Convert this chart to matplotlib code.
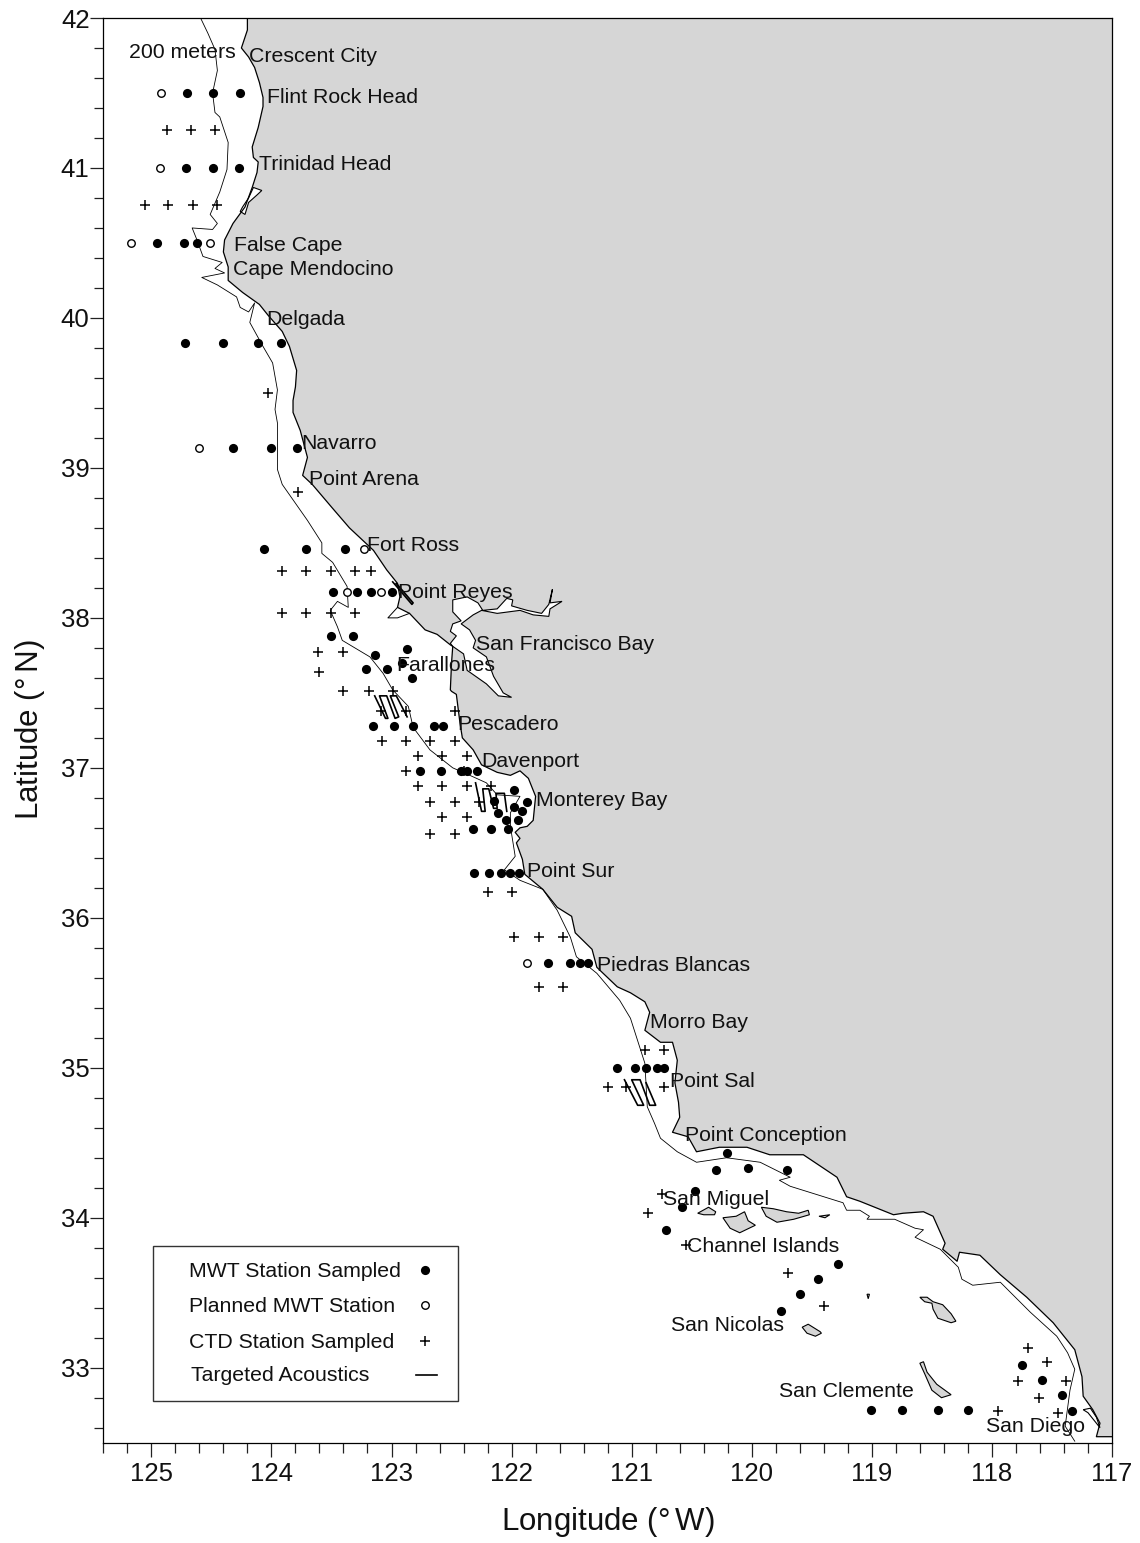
import matplotlib
matplotlib.use('Agg')
import matplotlib.pyplot as plt
from matplotlib.patches import Rectangle
from matplotlib.ticker import MultipleLocator, FormatStrFormatter

plt.rcParams['font.family'] = ['Liberation Sans', 'DejaVu Sans']
plt.rcParams['mathtext.default'] = 'regular'

# --- station data ---
mwt_lon = [124.70, 124.49, 124.26, 124.71, 124.49, 124.27, 124.95, 124.73, 124.62,
           124.72, 124.40, 124.11, 123.92, 124.32, 124.00, 123.79, 124.06, 123.71, 123.39,
           123.49, 123.29, 123.17, 123.00, 123.50, 123.32, 122.87, 123.14, 122.91, 123.21,
           123.04, 122.83, 123.15, 122.98, 122.82, 122.65, 122.57, 122.76, 122.59, 122.42,
           122.37, 122.29, 121.98, 121.87, 122.15, 121.98, 121.91, 122.11, 122.05, 121.95,
           122.32, 122.17, 122.03, 122.31, 122.19, 122.09, 122.01, 121.94, 121.70, 121.51,
           121.43, 121.36, 121.12, 120.97, 120.88, 120.79, 120.73, 120.21, 120.30, 120.03,
           119.71, 120.47, 120.58, 120.71, 119.28, 119.45, 119.60, 119.76, 117.75, 117.58,
           117.42, 117.33, 119.01, 118.75, 118.45, 118.20]
mwt_lat = [41.50, 41.50, 41.50, 41.00, 41.00, 41.00, 40.50, 40.50, 40.50,
           39.83, 39.83, 39.83, 39.83, 39.13, 39.13, 39.13, 38.46, 38.46, 38.46,
           38.17, 38.17, 38.17, 38.17, 37.88, 37.88, 37.79, 37.75, 37.70, 37.66,
           37.66, 37.60, 37.28, 37.28, 37.28, 37.28, 37.28, 36.98, 36.98, 36.98,
           36.98, 36.98, 36.85, 36.77, 36.78, 36.74, 36.71, 36.70, 36.65, 36.65,
           36.59, 36.59, 36.59, 36.30, 36.30, 36.30, 36.30, 36.30, 35.70, 35.70,
           35.70, 35.70, 35.00, 35.00, 35.00, 35.00, 35.00, 34.43, 34.32, 34.33,
           34.32, 34.18, 34.07, 33.92, 33.69, 33.59, 33.49, 33.38, 33.02, 32.92,
           32.82, 32.71, 32.72, 32.72, 32.72, 32.72]

planned_lon = [124.92, 124.93, 125.17, 124.51, 124.60, 123.23, 123.37, 123.09, 121.87]
planned_lat = [41.50, 41.00, 40.50, 40.50, 39.13, 38.46, 38.17, 38.17, 35.70]

ctd_lon = [124.87, 124.67, 124.47, 125.05, 124.86, 124.65, 124.45, 124.03, 123.78,
           123.91, 123.71, 123.50, 123.30, 123.17, 123.91, 123.71, 123.50, 123.30,
           123.61, 123.40, 123.60, 123.40, 123.19, 122.99, 123.09, 122.88, 122.47,
           123.08, 122.88, 122.68, 122.47, 122.78, 122.58, 122.37, 122.88, 122.40,
           122.78, 122.58, 122.37, 122.17, 122.68, 122.47, 122.27, 122.58, 122.37,
           122.68, 122.47, 122.20, 122.00, 121.98, 121.77, 121.57, 121.77, 121.57,
           120.89, 120.73, 121.20, 121.05, 120.73, 120.75, 120.86, 120.55, 119.70,
           119.40, 117.70, 117.54, 117.78, 117.38, 117.61, 117.45, 117.95]
ctd_lat = [41.25, 41.25, 41.25, 40.75, 40.75, 40.75, 40.75, 39.50, 38.84,
           38.31, 38.31, 38.31, 38.31, 38.31, 38.03, 38.03, 38.03, 38.03,
           37.77, 37.77, 37.64, 37.51, 37.51, 37.51, 37.38, 37.38, 37.38,
           37.18, 37.18, 37.18, 37.18, 37.08, 37.08, 37.08, 36.98, 36.98,
           36.88, 36.88, 36.88, 36.88, 36.77, 36.77, 36.77, 36.67, 36.67,
           36.56, 36.56, 36.17, 36.17, 35.87, 35.87, 35.87, 35.54, 35.54,
           35.12, 35.12, 34.87, 34.87, 34.87, 34.16, 34.03, 33.82, 33.63,
           33.41, 33.13, 33.04, 32.91, 32.91, 32.80, 32.70, 32.71]

# --- coastline and 200 m contour ---
coast_lon = [124.20, 124.20, 124.25, 124.19, 124.14, 124.10, 124.07, 124.07, 124.11, 124.16,
             124.15, 124.11, 124.12, 124.16, 124.22, 124.32, 124.39, 124.40, 124.36, 124.36,
             124.24, 124.10, 124.03, 123.91, 123.85, 123.79, 123.80, 123.82, 123.82, 123.76,
             123.70, 123.74, 123.66, 123.49, 123.35, 123.15, 123.04, 122.95, 122.93, 122.95,
             122.85, 122.72, 122.62, 122.51, 122.49, 122.50, 122.51, 122.50, 122.46, 122.43,
             122.41, 122.32, 122.25, 122.12, 122.01, 121.93, 121.86, 121.80, 121.82, 121.87,
             121.93, 121.97, 121.93, 121.96, 121.91, 121.89, 121.74, 121.62, 121.50, 121.47,
             121.33, 121.29, 121.12, 121.01, 120.89, 120.85, 120.89, 120.76, 120.66, 120.62,
             120.64, 120.61, 120.60, 120.66, 120.53, 120.46, 120.27, 120.04, 119.85, 119.57,
             119.29, 119.21, 119.10, 118.82, 118.74, 118.57, 118.49, 118.39, 118.41, 118.29,
             118.27, 118.10, 117.93, 117.71, 117.49, 117.31, 117.25, 117.24, 117.16, 117.10,
             117.13, 117.00]
coast_lat = [42.00, 41.92, 41.80, 41.74, 41.67, 41.57, 41.47, 41.41, 41.27, 41.14,
             41.07, 41.04, 40.97, 40.87, 40.74, 40.63, 40.52, 40.44, 40.34, 40.25,
             40.17, 40.09, 40.02, 39.91, 39.81, 39.65, 39.54, 39.45, 39.37, 39.25,
             39.07, 38.95, 38.89, 38.73, 38.60, 38.45, 38.32, 38.23, 38.14, 38.07,
             38.03, 37.92, 37.89, 37.82, 37.81, 37.70, 37.52, 37.51, 37.49, 37.30,
             37.20, 37.12, 37.02, 36.97, 36.95, 36.98, 36.93, 36.81, 36.65, 36.61,
             36.60, 36.57, 36.53, 36.50, 36.39, 36.29, 36.19, 36.07, 36.01, 35.90,
             35.79, 35.67, 35.54, 35.50, 35.44, 35.37, 35.25, 35.17, 35.17, 35.05,
             34.90, 34.77, 34.67, 34.57, 34.54, 34.44, 34.47, 34.47, 34.42, 34.42,
             34.27, 34.14, 34.11, 34.02, 34.03, 34.04, 34.01, 33.83, 33.79, 33.71,
             33.77, 33.75, 33.62, 33.47, 33.30, 33.12, 32.94, 32.81, 32.72, 32.63,
             32.54, 32.54]

contour_lon = [124.59, 124.53, 124.47, 124.45, 124.49, 124.47, 124.43, 124.36, 124.37, 124.43,
               124.51, 124.45, 124.49, 124.66, 124.62, 124.57, 124.41, 124.47, 124.39, 124.58,
               124.45, 124.29, 124.26, 124.19, 124.14, 124.18, 124.07, 123.99, 123.95, 123.97,
               123.95, 123.95, 123.91, 123.70, 123.58, 123.58, 123.49, 123.37, 123.36, 123.45,
               123.51, 123.45, 123.41, 123.18, 123.07, 122.99, 122.86, 122.82, 122.68, 122.49,
               122.32, 122.21, 122.12, 121.93, 122.01, 122.01, 121.99, 121.97, 122.06, 121.93,
               121.74, 121.62, 121.51, 121.46, 121.29, 121.10, 121.01, 120.89, 120.87, 120.81,
               120.76, 120.62, 120.46, 120.21, 119.93, 119.68, 119.77, 119.68, 119.24, 119.21,
               119.10, 119.02, 119.04, 118.81, 118.64, 118.57, 118.64, 118.43, 118.28, 118.25,
               118.16, 117.93, 117.68, 117.46, 117.37, 117.31, 117.35, 117.39, 117.31]
contour_lat = [42.00, 41.90, 41.79, 41.65, 41.50, 41.37, 41.34, 41.17, 40.99, 40.84,
               40.69, 40.63, 40.59, 40.60, 40.52, 40.41, 40.37, 40.33, 40.30, 40.27,
               40.22, 40.14, 40.07, 40.04, 40.10, 39.97, 39.81, 39.70, 39.52, 39.39,
               39.30, 38.99, 38.89, 38.65, 38.50, 38.43, 38.37, 38.21, 38.07, 38.11,
               38.05, 37.94, 37.85, 37.74, 37.63, 37.52, 37.41, 37.27, 37.12, 37.00,
               36.94, 36.90, 36.82, 36.81, 36.70, 36.61, 36.51, 36.41, 36.32, 36.25,
               36.19, 36.05, 35.87, 35.74, 35.63, 35.45, 35.33, 35.03, 34.74, 34.63,
               34.53, 34.44, 34.37, 34.40, 34.37, 34.27, 34.25, 34.21, 34.10, 34.05,
               34.05, 34.01, 33.99, 33.99, 33.93, 33.92, 33.87, 33.79, 33.67, 33.59,
               33.55, 33.57, 33.37, 33.21, 33.10, 32.99, 32.85, 32.61, 32.51]

reyes_lon = [122.95, 123.03, 122.95, 122.85]
reyes_lat = [38.07, 38.00, 38.00, 38.03]

# --- white inlets ---
humboldt_lon = [124.08, 124.15, 124.19, 124.24, 124.26, 124.22, 124.19, 124.12]
humboldt_lat = [40.85, 40.87, 40.80, 40.74, 40.71, 40.69, 40.77, 40.82]

bay_lon = [122.51, 122.46, 122.51, 122.49, 122.42, 122.49, 122.49, 122.37, 122.28, 122.24,
           122.12, 122.04, 121.99, 122.00, 121.87, 121.75, 121.69, 121.66, 121.68, 121.58,
           121.68, 121.69, 121.82, 121.93, 122.12, 122.25, 122.32, 122.42, 122.35, 122.30,
           122.32, 122.21, 122.15, 122.07, 122.00, 122.11, 122.21, 122.37, 122.40, 122.49]
bay_lat = [37.83, 37.88, 37.91, 37.96, 37.98, 38.04, 38.12, 38.14, 38.10, 38.05,
           38.06, 38.13, 38.12, 38.08, 38.05, 38.03, 38.09, 38.19, 38.10, 38.11,
           38.06, 38.01, 38.02, 38.05, 38.03, 38.05, 38.02, 37.96, 37.92, 37.85,
           37.80, 37.74, 37.61, 37.50, 37.47, 37.48, 37.56, 37.65, 37.76, 37.81]

sandiego_lon = [117.24, 117.18, 117.13, 117.10, 117.14, 117.20]
sandiego_lat = [32.72, 32.73, 32.67, 32.60, 32.64, 32.70]

# --- islands ---
islands_lon = [
    [120.45, 120.36, 120.30, 120.31, 120.40],
    [120.24, 120.13, 120.06, 120.03, 119.97, 120.10, 120.18],
    [119.92, 119.82, 119.71, 119.61, 119.53, 119.52, 119.65, 119.79, 119.88],
    [119.44, 119.39, 119.35],
    [119.04, 119.02, 119.03],
    [118.60, 118.54, 118.49, 118.41, 118.34, 118.30, 118.34, 118.45, 118.49, 118.50, 118.56],
    [119.58, 119.53, 119.43, 119.42, 119.47, 119.54],
    [118.60, 118.57, 118.54, 118.46, 118.34, 118.42, 118.50, 118.56],
]
islands_lat = [
    [34.03, 34.07, 34.04, 34.02, 34.02],
    [34.00, 34.01, 34.04, 33.98, 33.95, 33.90, 33.93],
    [34.07, 34.06, 34.04, 34.03, 34.05, 34.02, 33.99, 33.97, 34.01],
    [34.01, 34.00, 34.02],
    [33.49, 33.49, 33.46],
    [33.47, 33.47, 33.44, 33.42, 33.36, 33.31, 33.30, 33.33, 33.39, 33.43, 33.44],
    [33.27, 33.29, 33.24, 33.23, 33.21, 33.23],
    [33.03, 33.04, 32.97, 32.89, 32.82, 32.80, 32.85, 32.96],
]

# --- acoustic transects ---
tracks_lon = [
    [122.99, 122.83, 122.82, 122.96],
    [123.14, 123.05, 123.03, 123.10, 123.04, 122.97, 122.94, 123.01, 122.96, 122.87],
    [122.30, 122.25, 122.22, 122.24, 122.19, 122.15, 122.12, 122.13, 122.06, 122.04],
    [121.06, 120.95, 120.90, 121.00, 120.93, 120.85, 120.80, 120.88],
]
tracks_lat = [
    [38.24, 38.09, 38.10, 38.23],
    [37.48, 37.33, 37.33, 37.48, 37.48, 37.33, 37.34, 37.48, 37.48, 37.34],
    [36.90, 36.71, 36.71, 36.86, 36.86, 36.73, 36.73, 36.83, 36.83, 36.71],
    [34.92, 34.75, 34.75, 34.92, 34.92, 34.75, 34.75, 34.90],
]

# --- place names ---
place_names = ['200 meters', 'Crescent City', 'Flint Rock Head', 'Trinidad Head', 'False Cape',
               'Cape Mendocino', 'Delgada', 'Navarro', 'Point Arena', 'Fort Ross', 'Point Reyes',
               'San Francisco Bay', 'Farallones', 'Pescadero', 'Davenport', 'Monterey Bay',
               'Point Sur', 'Piedras Blancas', 'Morro Bay', 'Point Sal', 'Point Conception',
               'San Miguel', 'Channel Islands', 'San Nicolas', 'San Clemente', 'San Diego']
place_lon = [125.19, 124.19, 124.04, 124.10, 124.31, 124.32, 124.04, 123.75, 123.69, 123.20,
             122.95, 122.30, 122.96, 122.45, 122.25, 121.80, 121.87, 121.29, 120.85, 120.68,
             120.56, 120.74, 120.54, 120.67, 119.77, 118.05]
place_lat = [41.77, 41.74, 41.47, 41.02, 40.48, 40.32, 39.99, 39.16, 38.92, 38.48,
             38.17, 37.82, 37.68, 37.29, 37.04, 36.78, 36.31, 35.68, 35.30, 34.91,
             34.55, 34.12, 33.81, 33.28, 32.84, 32.61]

legend_labels = ['MWT Station Sampled', 'Planned MWT Station', 'CTD Station Sampled', 'Targeted Acoustics']

LAND = '#d6d6d6'

fig = plt.figure(figsize=(11.4, 15.43), dpi=100)
ax = fig.add_axes([103.3 / 1140, 1 - 1442.7 / 1543, (1112 - 103.3) / 1140, (1442.7 - 18) / 1543])

ax.fill(coast_lon + [117.0], coast_lat + [42.0], color=LAND, lw=0, zorder=1)
ax.plot(coast_lon, coast_lat, color='black', lw=0.9, zorder=3)
ax.plot(contour_lon, contour_lat, color='black', lw=0.6, zorder=3)
ax.plot(reyes_lon, reyes_lat, color='black', lw=0.7, zorder=3)

for inlet_lon, inlet_lat in [(humboldt_lon, humboldt_lat), (bay_lon, bay_lat), (sandiego_lon, sandiego_lat)]:
    ax.fill(inlet_lon, inlet_lat, facecolor='white', edgecolor='black', lw=0.8, zorder=2)

for isl_lon, isl_lat in zip(islands_lon, islands_lat):
    ax.fill(isl_lon, isl_lat, facecolor=LAND, edgecolor='black', lw=0.8, zorder=2)

for trk_lon, trk_lat in zip(tracks_lon, tracks_lat):
    ax.plot(trk_lon, trk_lat, color='black', lw=1.2, zorder=4)

ax.plot(mwt_lon, mwt_lat, 'o', color='black', ms=6.6, mew=0, zorder=5)
ax.plot(planned_lon, planned_lat, 'o', mfc='white', mec='black', ms=5.4, mew=1.0, zorder=5)
ax.plot(ctd_lon, ctd_lat, '+', color='black', ms=7, mew=1.1, zorder=5)

for name, lon, lat in zip(place_names, place_lon, place_lat):
    ax.text(lon, lat, name, fontsize=15.3, color='#111111', ha='left', va='center', zorder=6)

# legend box drawn by hand, the row spacing is uneven
ax.add_patch(Rectangle((124.99, 32.78), 122.45 - 124.99, 33.81 - 32.78, fc='white', ec='#333333', lw=1.0, zorder=6))
row_lon = [124.69, 124.69, 124.69, 124.67]
row_lat = [33.64, 33.41, 33.17, 32.95]
for label, lon, lat in zip(legend_labels, row_lon, row_lat):
    ax.text(lon, lat, label, fontsize=15.3, color='#111111', ha='left', va='center', zorder=7)
ax.plot([122.72], [33.65], 'o', color='black', ms=6.6, mew=0, zorder=7)
ax.plot([122.72], [33.42], 'o', mfc='white', mec='black', ms=5.4, mew=1.0, zorder=7)
ax.plot([122.72], [33.18], '+', color='black', ms=7, mew=1.1, zorder=7)
ax.plot([122.80, 122.62], [32.95, 32.95], color='black', lw=1.2, zorder=7)

ax.set_xlim(125.4, 117)
ax.set_ylim(32.5, 42)
ax.xaxis.set_major_locator(MultipleLocator(1))
ax.xaxis.set_minor_locator(MultipleLocator(0.2))
ax.yaxis.set_major_locator(MultipleLocator(1))
ax.yaxis.set_minor_locator(MultipleLocator(0.2))
ax.xaxis.set_major_formatter(FormatStrFormatter('%d'))
ax.yaxis.set_major_formatter(FormatStrFormatter('%d'))
ax.tick_params(axis='both', which='major', labelsize=18.5, width=0.9, color='#222222', labelcolor='#111111')
ax.tick_params(axis='x', which='major', length=10, pad=4)
ax.tick_params(axis='x', which='minor', length=7, width=0.9, color='#222222')
ax.tick_params(axis='y', which='major', length=9.4, pad=0.5)
ax.tick_params(axis='y', which='minor', length=6.5, width=0.9, color='#222222')
for spine in ax.spines.values():
    spine.set_linewidth(0.9)

fig.text(30 / 1140, 1 - 730 / 1543, r'Latitude (°$\,$N)', fontsize=22.5, rotation=90, ha='center', va='center', color='#111111')
fig.text(608 / 1140, 1 - 1522 / 1543, r'Longitude (°$\,$W)', fontsize=22.5, ha='center', va='center', color='#111111')

fig.savefig('out.png', dpi=100)
